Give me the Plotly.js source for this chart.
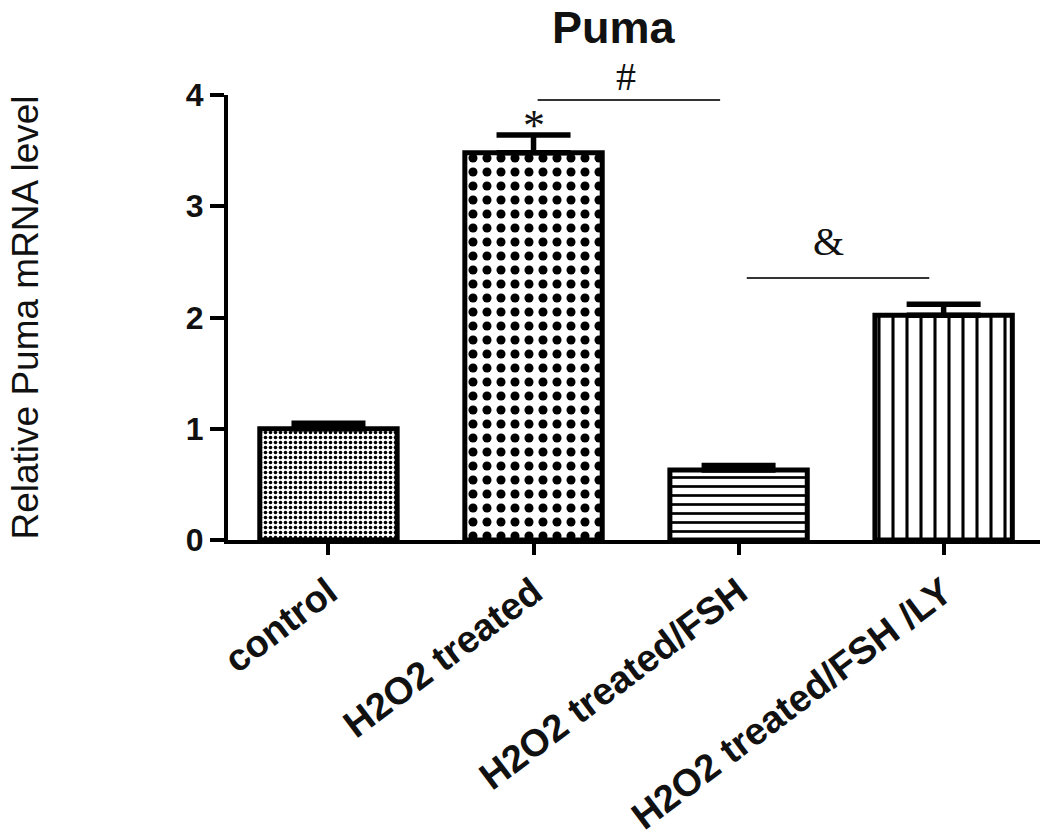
<!DOCTYPE html>
<html>
<head>
<meta charset="utf-8">
<script src="https://cdn.plot.ly/plotly-3.0.1.min.js"></script>
<style>html,body{margin:0;padding:0;background:#fff;}#chart{width:1043px;height:839px;}</style>
</head>
<body>
<div id="chart"></div>
<script>
// ---- data ----
const categories = ["control", "H2O2 treated", "H2O2 treated/FSH", "H2O2 treated/FSH /LY"];
const values = [1.00, 3.48, 0.63, 2.02];
const errors = [0.05, 0.16, 0.04, 0.10];
const patternShapes = [".", ".", "-", "|"];
const patternSizes = [5, 14, 9, 14];
const patternSolidity = [0.4, 0.33, 0.3, 0.22];

// significance marks
const markTexts = ["*", "#", "&"];
const markX = [1, 1.45, 2.44];
const markY = [3.64, 3.955, 2.355];
const markShift = [10, 24, 37];
const markSize = [44, 40, 40];
// comparison lines
const lineX0 = [1.02, 2.04];
const lineX1 = [1.91, 2.93];
const lineY = [3.955, 2.355];

const traces = categories.map((c, i) => ({
  type: "bar",
  x: [i],
  y: [values[i]],
  name: c,
  showlegend: false,
  marker: {
    color: "#ffffff",
    line: {color: "#000000", width: 5},
    pattern: {shape: patternShapes[i], size: patternSizes[i], solidity: patternSolidity[i],
              fgcolor: "#000000", bgcolor: "#ffffff", fillmode: "replace"}
  },
  error_y: {type: "data", array: [errors[i]], arrayminus: [0], symmetric: false,
            color: "#000000", thickness: 5.5, width: 37},
  cliponaxis: false
}));

const annotations = markTexts.map((t, i) => ({
  text: t, x: markX[i], y: markY[i], yshift: markShift[i], xref: "x", yref: "y",
  showarrow: false, font: {family: "Liberation Serif, serif", size: markSize[i], color: "#111"}
}));

const shapes = lineY.map((y, i) => ({
  type: "line", xref: "x", yref: "y", x0: lineX0[i], x1: lineX1[i], y0: y, y1: y,
  line: {color: "#333", width: 1.8}
}));

const layout = {
  width: 1043, height: 839,
  paper_bgcolor: "#ffffff", plot_bgcolor: "#ffffff",
  margin: {l: 228, r: 3, t: 95, b: 299},
  bargap: 0.33,
  font: {family: "Liberation Sans, Arial, sans-serif", color: "#000"},
  title: {text: "<b>Puma</b>", x: 0.588, xanchor: "center", y: 0.968, yanchor: "middle",
          font: {size: 45, family: "Liberation Sans, Arial, sans-serif", color: "#111"}},
  xaxis: {
    range: [-0.49, 3.47], tickmode: "array", tickvals: [0, 1, 2, 3],
    ticktext: categories.map(c => "<b>" + c + "</b>"),
    tickangle: -37, tickfont: {size: 38, color: "#111"},
    showline: true, linewidth: 4, linecolor: "#000",
    ticks: "outside", ticklen: 11, tickwidth: 4, tickcolor: "#000",
    showgrid: false, zeroline: false, fixedrange: true
  },
  yaxis: {
    range: [0, 4], dtick: 1, tick0: 0,
    tickfont: {size: 32, color: "#111"}, tickprefix: "<b>", ticksuffix: "</b>",
    showline: true, linewidth: 4, linecolor: "#000",
    ticks: "outside", ticklen: 14, tickwidth: 4, tickcolor: "#000",
    showgrid: false, zeroline: false, fixedrange: true,
    title: {text: "Relative Puma mRNA level", standoff: 137,
            font: {size: 37, family: "Liberation Sans, Arial, sans-serif", color: "#111"}}
  },
  annotations: annotations,
  shapes: shapes
};

Plotly.newPlot("chart", traces, layout, {displayModeBar: false, staticPlot: true});
</script>
</body>
</html>
